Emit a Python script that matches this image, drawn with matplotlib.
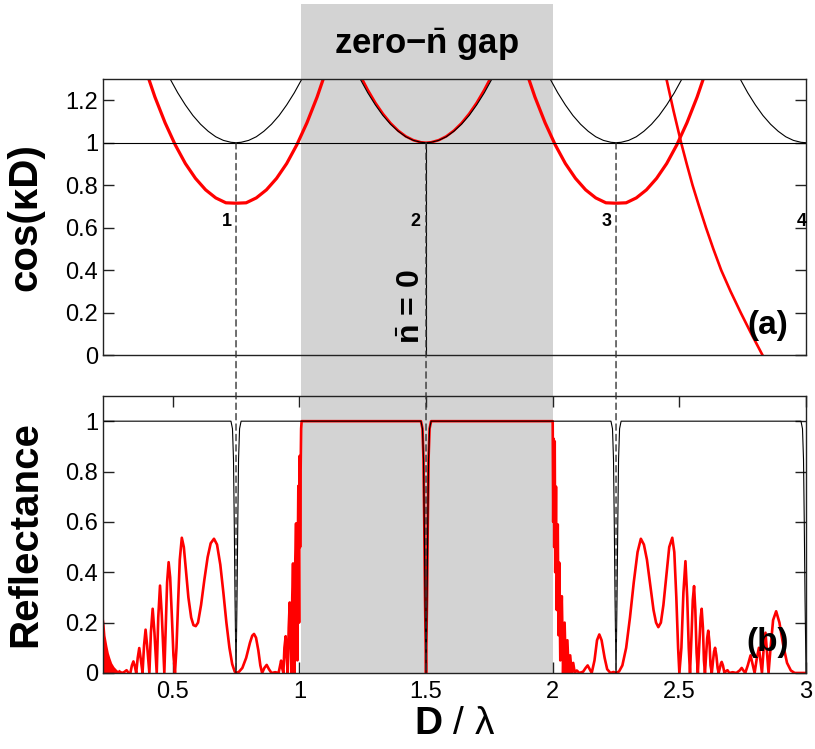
import numpy as np
import matplotlib
matplotlib.use('Agg')
import matplotlib.pyplot as plt
from matplotlib.patches import Rectangle, ConnectionPatch
from matplotlib.transforms import blended_transform_factory

plt.rcParams['font.family'] = ['Liberation Sans', 'DejaVu Sans']
plt.rcParams['mathtext.fontset'] = 'custom'
plt.rcParams['mathtext.rm'] = 'Liberation Sans'
plt.rcParams['mathtext.bf'] = 'Liberation Sans:bold'
plt.rcParams['mathtext.it'] = 'Liberation Sans:italic'

# ---- data ----
band_centres = [0.75, 1.5, 2.25, 3.0]
band_labels = ['1', '2', '3', '4']
gap_lo, gap_hi = 1.006, 2.0

# black cos(kD) branch: offset from band centre -> value
black_dx = [-0.26, -0.23, -0.20, -0.17, -0.14, -0.11, -0.08, -0.05, -0.02, 0.0,
            0.02, 0.05, 0.08, 0.11, 0.14, 0.17, 0.20, 0.23, 0.26]
black_cos = [1.30, 1.235, 1.178, 1.128, 1.087, 1.054, 1.028, 1.011, 1.002, 1.0,
             1.002, 1.011, 1.028, 1.054, 1.087, 1.128, 1.178, 1.235, 1.30]

# red branches around 0.75 and 2.25 (same shape)
red_side_centres = [0.75, 2.25]
red_side_dx = [-0.35, -0.32, -0.28, -0.24, -0.20, -0.16, -0.12, -0.08, -0.04, 0.0,
               0.04, 0.08, 0.12, 0.16, 0.20, 0.24, 0.28, 0.32, 0.35]
red_side_cos = [1.32, 1.215, 1.094, 0.99, 0.902, 0.832, 0.778, 0.74, 0.717, 0.715,
                0.717, 0.74, 0.778, 0.832, 0.902, 0.99, 1.094, 1.215, 1.32]

# red branch at 1.5
red_mid_x = [1.245, 1.27, 1.30, 1.33, 1.36, 1.39, 1.42, 1.45, 1.48, 1.50,
             1.52, 1.55, 1.58, 1.61, 1.64, 1.67, 1.70, 1.73, 1.755]
red_mid_cos = [1.306, 1.249, 1.188, 1.136, 1.092, 1.057, 1.030, 1.012, 1.002, 1.0,
               1.002, 1.012, 1.030, 1.057, 1.092, 1.136, 1.188, 1.249, 1.306]

# steep red branch
red_steep_x = [2.449, 2.477, 2.507, 2.529, 2.552, 2.578, 2.605, 2.634, 2.665,
               2.702, 2.742, 2.784, 2.828]
red_steep_cos = [1.3, 1.15, 1.0, 0.9, 0.8, 0.7, 0.6, 0.5, 0.4, 0.3, 0.2, 0.1, 0.0]

# reflectance dips (offset from centre -> R)
dip_dx = [-0.02, -0.014, -0.010, -0.007, -0.004, 0.0, 0.004, 0.007, 0.010, 0.014, 0.02]
dip_r = [1.0, 0.97, 0.85, 0.6, 0.3, 0.0, 0.3, 0.6, 0.85, 0.97, 1.0]

# dense oscillation envelope at the left edge
env_x = [0.225, 0.229, 0.233, 0.24, 0.246, 0.252, 0.259, 0.268, 0.279, 0.29, 0.30]
env_r = [0.23, 0.2, 0.15, 0.11, 0.08, 0.06, 0.04, 0.025, 0.013, 0.006, 0.003]

# red reflectance below the gap
refl_low = [
    (0.290, 0.006), (0.300, 0.0), (0.309, 0.004), (0.318, 0.011), (0.326, 0.0),
    (0.333, 0.0), (0.339, 0.03), (0.345, 0.046), (0.351, 0.025), (0.356, 0.0),
    (0.362, 0.06), (0.368, 0.099), (0.374, 0.055), (0.381, 0.0), (0.387, 0.11),
    (0.393, 0.172), (0.399, 0.11), (0.408, 0.0), (0.414, 0.16), (0.421, 0.255),
    (0.428, 0.16), (0.437, 0.0), (0.443, 0.22), (0.450, 0.347), (0.457, 0.23),
    (0.467, 0.0), (0.473, 0.2), (0.478, 0.36), (0.484, 0.44), (0.490, 0.38),
    (0.497, 0.22), (0.503, 0.07), (0.509, 0.0), (0.515, 0.1), (0.521, 0.27),
    (0.528, 0.45), (0.536, 0.537), (0.544, 0.5), (0.552, 0.41), (0.562, 0.3),
    (0.573, 0.22), (0.582, 0.19), (0.591, 0.186), (0.600, 0.2), (0.612, 0.27),
    (0.625, 0.37), (0.638, 0.46), (0.650, 0.515), (0.663, 0.533), (0.675, 0.51),
    (0.688, 0.43), (0.700, 0.32), (0.712, 0.2), (0.724, 0.1), (0.735, 0.035),
    (0.745, 0.005), (0.752, 0.0), (0.762, 0.005), (0.775, 0.02), (0.790, 0.06),
    (0.805, 0.12), (0.814, 0.148), (0.821, 0.155), (0.829, 0.14), (0.838, 0.09),
    (0.846, 0.03), (0.853, 0.0), (0.862, 0.02), (0.871, 0.032), (0.880, 0.015),
    (0.890, 0.0), (0.905, 0.003), (0.918, 0.0), (0.924, 0.03), (0.928, 0.049),
    (0.932, 0.02), (0.937, 0.0), (0.941, 0.1), (0.946, 0.146), (0.950, 0.06),
    (0.954, 0.0), (0.958, 0.18), (0.962, 0.28), (0.966, 0.12), (0.969, 0.0),
    (0.972, 0.3), (0.975, 0.435), (0.978, 0.2), (0.981, 0.0), (0.984, 0.45),
    (0.987, 0.594), (0.990, 0.3), (0.992, 0.05), (0.994, 0.5), (0.996, 0.743),
    (0.998, 0.4), (0.999, 0.2), (1.001, 0.862), (1.003, 0.5), (1.005, 0.8),
    (1.007, 0.97), (1.009, 1.0),
]

# red reflectance above the gap
refl_high = [
    (2.000, 1.0), (2.002, 0.6), (2.004, 0.93), (2.006, 0.5), (2.008, 0.92),
    (2.010, 0.4), (2.013, 0.74), (2.016, 0.25), (2.020, 0.59), (2.023, 0.15),
    (2.026, 0.438), (2.030, 0.05), (2.036, 0.305), (2.041, 0.0), (2.047, 0.2),
    (2.052, 0.0), (2.058, 0.13), (2.063, 0.0), (2.069, 0.07), (2.075, 0.0),
    (2.081, 0.04), (2.087, 0.0), (2.095, 0.01), (2.105, 0.0), (2.120, 0.005),
    (2.130, 0.02), (2.138, 0.03), (2.146, 0.015), (2.154, 0.0), (2.165, 0.05),
    (2.175, 0.13), (2.184, 0.153), (2.193, 0.13), (2.205, 0.06), (2.215, 0.015),
    (2.228, 0.0), (2.240, 0.004), (2.250, 0.0), (2.262, 0.006), (2.275, 0.03),
    (2.290, 0.1), (2.305, 0.22), (2.320, 0.36), (2.335, 0.48), (2.348, 0.533),
    (2.360, 0.51), (2.372, 0.45), (2.385, 0.35), (2.398, 0.25), (2.408, 0.2),
    (2.417, 0.182), (2.427, 0.2), (2.437, 0.27), (2.448, 0.38), (2.460, 0.5),
    (2.472, 0.537), (2.480, 0.48), (2.488, 0.3), (2.495, 0.1), (2.500, 0.0),
    (2.508, 0.1), (2.516, 0.32), (2.524, 0.444), (2.531, 0.3), (2.537, 0.1),
    (2.542, 0.0), (2.548, 0.15), (2.553, 0.29), (2.558, 0.345), (2.563, 0.25),
    (2.568, 0.08), (2.573, 0.0), (2.579, 0.12), (2.584, 0.22), (2.588, 0.255),
    (2.593, 0.18), (2.597, 0.05), (2.601, 0.0), (2.606, 0.08), (2.610, 0.14),
    (2.614, 0.168), (2.619, 0.12), (2.623, 0.03), (2.628, 0.0), (2.633, 0.05),
    (2.637, 0.085), (2.641, 0.1), (2.646, 0.07), (2.651, 0.02), (2.655, 0.0),
    (2.660, 0.02), (2.664, 0.038), (2.667, 0.044), (2.672, 0.03), (2.678, 0.0),
    (2.685, 0.008), (2.690, 0.011), (2.697, 0.0), (2.710, 0.003), (2.725, 0.0),
    (2.738, 0.01), (2.746, 0.02), (2.754, 0.008), (2.760, 0.0), (2.770, 0.03),
    (2.781, 0.07), (2.790, 0.03), (2.797, 0.0), (2.806, 0.06), (2.814, 0.1),
    (2.821, 0.04), (2.826, 0.0), (2.833, 0.1), (2.840, 0.16), (2.846, 0.08),
    (2.852, 0.0), (2.860, 0.1), (2.870, 0.21), (2.882, 0.245), (2.895, 0.2),
    (2.910, 0.11), (2.925, 0.04), (2.940, 0.01), (2.955, 0.0), (3.000, 0.0),
]

# ---- figure ----
fig = plt.figure(figsize=(8.15, 7.49), dpi=100)
ax1 = fig.add_axes([0.1264, 0.526, 0.8626, 0.3685])
ax2 = fig.add_axes([0.1264, 0.1015, 0.8626, 0.3698])
for ax in (ax1, ax2):
    ax.set_facecolor('none')
    ax.set_xlim(0.225, 3.0)
    for s in ax.spines.values():
        s.set_linewidth(1.0)
        s.set_color('#222222')
    ax.tick_params(direction='in', length=8, width=1, labelsize=17,
                   left=True, right=True, colors='#222222', labelcolor='black')

ax1.set_ylim(0, 1.3)
ax1.set_yticks([0, 0.2, 0.4, 0.6, 0.8, 1.0, 1.2])
ax1.set_yticklabels(['0', '0.2', '0.4', '0.6', '0.8', '1', '1.2'])
ax1.tick_params(axis='x', bottom=False, top=False, labelbottom=False)

ax2.set_ylim(0, 1.1)
ax2.set_yticks([0, 0.2, 0.4, 0.6, 0.8, 1.0])
ax2.set_yticklabels(['0', '0.2', '0.4', '0.6', '0.8', '1'])
ax2.set_xticks([0.5, 1.0, 1.5, 2.0, 2.5, 3.0])
ax2.set_xticklabels(['0.5', '1', '1.5', '2', '2.5', '3'])
ax2.tick_params(axis='x', top=True, bottom=True, pad=6)

# grey zero-n gap band across both panels
tr = blended_transform_factory(ax1.transData, fig.transFigure)
fig.add_artist(Rectangle((gap_lo, 0.1015), gap_hi - gap_lo, 0.9947 - 0.1015,
                         transform=tr, facecolor='lightgray', edgecolor='none', zorder=-5))
fig.text(1.5, 0.94, 'zero\u2212$\\bar{\\mathbf{n}}$ gap', transform=tr, ha='center',
         va='center', fontsize=25, fontweight='bold')

# top panel: cos(kD)
red_lw, blk_lw = 1.9, 0.8
for c in red_side_centres:
    ax1.plot(np.add(red_side_dx, c), red_side_cos, color='red', lw=red_lw + 0.4)
ax1.plot(red_mid_x, red_mid_cos, color='red', lw=red_lw)
ax1.plot(red_steep_x, red_steep_cos, color='red', lw=red_lw)
for c in band_centres:
    ax1.plot(np.add(black_dx, c), black_cos, color='black', lw=blk_lw)
ax1.axhline(1.0, color='black', lw=blk_lw)
ax1.plot([1.5, 1.5], [1.0, 0.0], color='black', lw=blk_lw)

label_x = [0.713, 1.457, 2.213, 2.983]
for lx, lab in zip(label_x, band_labels):
    ax1.text(lx, 0.63, lab, ha='center', va='center', fontsize=13, fontweight='bold')
ax1.text(1.445, 0.05, '$\\bar{\\mathbf{n}}$ = 0', rotation=90, ha='center', va='bottom',
         fontsize=23, fontweight='bold')
ax1.text(2.85, 0.14, '(a)', ha='center', va='center', fontsize=24, fontweight='bold', zorder=5)
ax1.set_ylabel('cos(\u03baD)', fontsize=29, fontweight='bold')
ax1.yaxis.set_label_coords(-0.083, 0.5)

# bottom panel: reflectance
lx_, ly_ = np.array(refl_low).T
hx_, hy_ = np.array(refl_high).T
red_x = list(lx_) + [1.009] + list(np.add(dip_dx, 1.5)) + list(hx_)
red_r = list(ly_) + [1.0] + dip_r + list(hy_)
ax2.fill_between(env_x, 0, env_r, color='red', lw=0)
ax2.plot(red_x, red_r, color='red', lw=red_lw)

blk_x, blk_r = [0.225], [1.0]
for c in band_centres:
    blk_x += list(np.add(dip_dx, c))
    blk_r += dip_r
ax2.plot(blk_x, blk_r, color='black', lw=blk_lw)
ax2.text(2.85, 0.12, '(b)', ha='center', va='center', fontsize=24, fontweight='bold', zorder=5)
ax2.set_ylabel('Reflectance', fontsize=29, fontweight='bold')
ax2.yaxis.set_label_coords(-0.083, 0.5)
ax2.set_xlabel('$\\mathbf{D}$ / \u03bb', fontsize=28)
ax2.xaxis.set_label_coords(0.5, -0.118)

# dashed guides linking the band centres
for c in band_centres[:3]:
    con = ConnectionPatch(xyA=(c, 1.0), coordsA=ax1.transData, xyB=(c, 0.0),
                          coordsB=ax2.transData, linestyle=(0, (4.5, 3)),
                          color='#333333', lw=1.0)
    fig.add_artist(con)

fig.savefig('out.png', dpi=100)
